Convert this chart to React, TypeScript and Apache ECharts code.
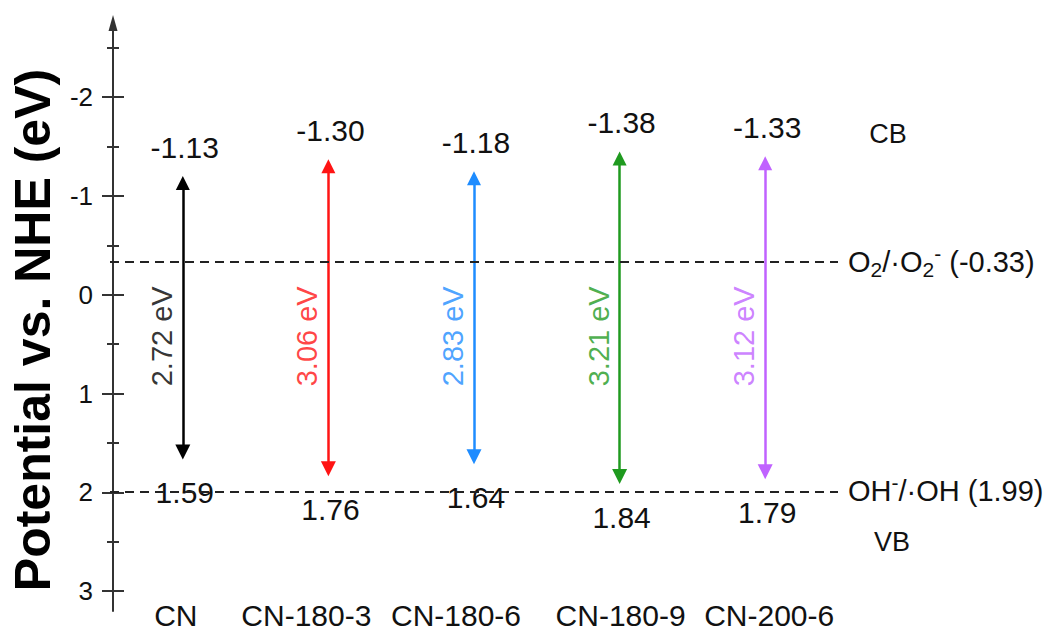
import React, { useEffect, useRef } from 'react';
import * as echarts from 'echarts';

// Samples and their band-edge potentials (V vs. NHE)
const samples = ['CN', 'CN-180-3', 'CN-180-6', 'CN-180-9', 'CN-200-6'];
const cbPotential = [-1.13, -1.30, -1.18, -1.38, -1.33];
const vbPotential = [1.59, 1.76, 1.64, 1.84, 1.79];
const bandGap = [2.72, 3.06, 2.83, 3.21, 3.12];
const sampleColors = ['#000000', '#ff1414', '#1e8cff', '#1f9a1f', '#c062ff'];

// Reference redox potentials drawn as dashed levels
const redoxLevels = [-0.33, 1.99];
const redoxLabels = [
  '{t|O}{sub|2}{t|/·O}{sub|2}{sup|-}{t| (-0.33)}',
  '{t|OH}{sup|-}{t|/·OH (1.99)}',
];

const yMajorTicks = [-2, -1, 0, 1, 2, 3];
const yMinorTicks = [-2.5, -1.5, -0.5, 0.5, 1.5, 2.5];

// Height (in potential units) at which the band-gap captions sit
const GAP_LABEL_LEVEL = 0.42;

const FONT = '"Liberation Sans", Arial, Helvetica, sans-serif';
const INK = '#111111';
const AXIS_INK = '#333333';

export default function App() {
  const ref = useRef<HTMLDivElement>(null);

  useEffect(() => {
    if (!ref.current) return;
    const chart = echarts.init(ref.current, null, { renderer: 'svg' });

    const yRange = {
      type: 'value',
      min: -2.75,
      max: 3.2,
      inverse: true,
      position: 'left',
      offset: -3,
      splitLine: { show: false },
    };

    const tickAxis = (values: number[], length: number, inside: boolean) => ({
      ...yRange,
      axisLine: { show: false },
      axisLabel: { show: false },
      axisTick: {
        show: true,
        inside,
        length,
        customValues: values,
        lineStyle: { color: AXIS_INK, width: 2 },
      },
    });

    const labelShift = [14, 44, 36, -2, -8];
    const xRich: Record<string, any> = {};
    labelShift.forEach((s, i) => {
      xRich['s' + i] = {
        fontSize: 30,
        lineHeight: 28,
        fontFamily: FONT,
        color: INK,
        padding: s >= 0 ? [0, s, 0, 0] : [0, 0, 0, -s],
      };
    });

    const valueLabel = {
      show: true,
      fontSize: 30,
      color: INK,
      fontFamily: FONT,
      textBorderWidth: 0,
      opacity: 1,
    };

    const option: any = {
      animation: false,
      backgroundColor: '#ffffff',
      textStyle: { fontFamily: FONT },
      grid: {
        left: 110,
        top: 23,
        width: 728,
        height: 588,
        containLabel: false,
        outerBoundsMode: 'none',
      },
      xAxis: {
        type: 'category',
        data: samples,
        offset: -10,
        axisLine: { show: false, onZero: false },
        axisTick: { show: false },
        splitLine: { show: false },
        axisLabel: {
          margin: 0,
          interval: 0,
          formatter: (v: string, i: number) => `{s${i}|${v}}`,
          rich: xRich,
        },
      },
      yAxis: [
        {
          ...yRange,
          name: 'Potential vs. NHE (eV)',
          nameLocation: 'middle',
          nameRotate: 90,
          nameGap: 55,
          nameTextStyle: {
            fontSize: 50,
            fontWeight: 'bold',
            color: '#000',
            fontFamily: FONT,
            padding: [0, 26, 0, 0],
          },
          axisLine: {
            show: true,
            symbol: ['none', 'triangle'],
            symbolSize: [9, 16],
            lineStyle: { color: AXIS_INK, width: 2 },
          },
          axisTick: {
            show: true,
            inside: false,
            length: 11,
            customValues: yMajorTicks,
            lineStyle: { color: AXIS_INK, width: 2 },
          },
          axisLabel: {
            show: true,
            margin: 20,
            customValues: yMajorTicks,
            fontSize: 26,
            color: INK,
            fontFamily: FONT,
          },
        },
        tickAxis(yMajorTicks, 11, true),
        tickAxis(yMinorTicks, 6, false),
        tickAxis(yMinorTicks, 6, true),
      ],
      series: [
        {
          name: 'band',
          type: 'lines',
          coordinateSystem: 'cartesian2d',
          xAxisIndex: 0,
          yAxisIndex: 0,
          symbol: ['triangle', 'triangle'],
          symbolSize: [14, 15],
          silent: true,
          lineStyle: { width: 2.5, opacity: 1 },
          data: samples.map((_, i) => ({
            coords: [
              [i, cbPotential[i]],
              [i, vbPotential[i]],
            ],
            lineStyle: { color: sampleColors[i], width: 2.5 },
          })),
        },
        {
          name: 'CB',
          type: 'scatter',
          xAxisIndex: 0,
          yAxisIndex: 0,
          symbol: 'circle',
          symbolSize: 1,
          itemStyle: { color: 'rgba(255,255,255,0)' },
          silent: true,
          data: cbPotential.map((v, i) => [i, v]),
          label: {
            ...valueLabel,
            position: 'top',
            distance: 20,
            offset: [2, 0],
            formatter: (p: any) => cbPotential[p.dataIndex].toFixed(2),
          },
          markLine: {
            silent: true,
            symbol: ['none', 'none'],
            lineStyle: { type: [9, 6], color: '#222', width: 2 },
            label: {
              show: true,
              position: 'end',
              distance: 10,
              color: INK,
              fontFamily: FONT,
              rich: {
                t: { fontSize: 29, color: INK, fontFamily: FONT },
                sub: { fontSize: 21, color: INK, fontFamily: FONT, padding: [14, 0, 0, 0] },
                sup: { fontSize: 21, color: INK, fontFamily: FONT, padding: [0, 0, 18, 0] },
              },
            },
            data: redoxLevels.map((v, i) => ({
              yAxis: v,
              label: { formatter: redoxLabels[i] },
            })),
          },
        },
        {
          name: 'VB',
          type: 'scatter',
          xAxisIndex: 0,
          yAxisIndex: 0,
          symbol: 'circle',
          symbolSize: 1,
          itemStyle: { color: 'rgba(255,255,255,0)' },
          silent: true,
          data: vbPotential.map((v, i) => [i, v]),
          label: {
            ...valueLabel,
            position: 'bottom',
            distance: 25,
            offset: [2, 0],
            formatter: (p: any) => vbPotential[p.dataIndex].toFixed(2),
          },
        },
        {
          name: 'gap',
          type: 'scatter',
          xAxisIndex: 0,
          yAxisIndex: 0,
          symbol: 'circle',
          symbolSize: 1,
          itemStyle: { color: 'rgba(255,255,255,0)' },
          silent: true,
          data: samples.map((_, i) => ({
            value: [i, GAP_LABEL_LEVEL],
            label: { color: sampleColors[i] },
          })),
          label: {
            show: true,
            position: 'inside',
            rotate: 90,
            offset: [0, -21],
            fontSize: 29,
            fontFamily: FONT,
            textBorderWidth: 0,
            formatter: (p: any) => `${bandGap[p.dataIndex].toFixed(2)} eV`,
          },
        },
      ],
      graphic: [
        {
          type: 'text',
          x: 888,
          y: 134,
          silent: true,
          style: {
            text: 'CB',
            font: `27px ${FONT}`,
            fill: INK,
            textAlign: 'center',
            textVerticalAlign: 'middle',
          },
        },
        {
          type: 'text',
          x: 892,
          y: 542,
          silent: true,
          style: {
            text: 'VB',
            font: `27px ${FONT}`,
            fill: INK,
            textAlign: 'center',
            textVerticalAlign: 'middle',
          },
        },
      ],
    };

    chart.setOption(option);
    return () => {
      chart.dispose();
    };
  }, []);

  return (
    <div
      ref={ref}
      style={{ position: 'absolute', left: 0, top: 0, width: 1051, height: 632, background: '#fff' }}
    />
  );
}
